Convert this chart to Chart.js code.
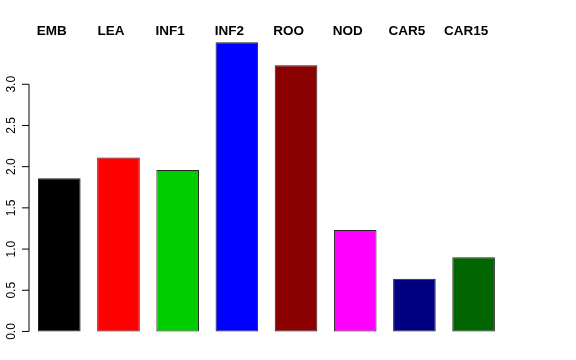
<!DOCTYPE html>
<html>
<head>
<meta charset="utf-8">
<script src="https://cdn.jsdelivr.net/npm/chart.js@4/dist/chart.umd.min.js"></script>
<style>
  body { margin: 0; background: #fff; }
  #wrap { width: 576px; height: 360px; position: relative; }
</style>
</head>
<body>
<div id="wrap"><canvas id="barChart"></canvas></div>
<script>
  // DATA

var categories = ["EMB", "LEA", "INF1", "INF2", "ROO", "NOD", "CAR5", "CAR15"];
var values = [1.86, 2.11, 1.96, 3.51, 3.23, 1.23, 0.64, 0.90];
var barColors = ["#000000", "#FF0000", "#00CD00", "#0000FF", "#8B0000", "#FF00FF", "#000080", "#006400"];
var yTicks = [0, 0.5, 1, 1.5, 2, 2.5, 3];
var yTickLabels = ["0.0", "0.5", "1.0", "1.5", "2.0", "2.5", "3.0"];

  // R STYLE Y AXIS (line only spans the ticks, labels turned up)

const rAxis = {
  id: "rAxis",
  afterDraw(chart) {
    const ctx = chart.ctx;
    const y = chart.scales.y;
    const x0 = 29;
    ctx.save();
    ctx.strokeStyle = "#000";
    ctx.lineWidth = 1;
    ctx.beginPath();
    ctx.moveTo(x0, y.getPixelForValue(yTicks[0]));
    ctx.lineTo(x0, y.getPixelForValue(yTicks[yTicks.length - 1]));
    yTicks.forEach((t) => {
      ctx.moveTo(x0, y.getPixelForValue(t));
      ctx.lineTo(x0 - 7, y.getPixelForValue(t));
    });
    ctx.stroke();

    ctx.fillStyle = "#000";
    ctx.font = "12px 'Liberation Sans', Arial, sans-serif";
    ctx.textAlign = "center";
    ctx.textBaseline = "alphabetic";
    yTicks.forEach((t, i) => {
      ctx.save();
      ctx.translate(14.5, y.getPixelForValue(t));
      ctx.rotate(-Math.PI / 2);
      ctx.fillText(yTickLabels[i], 0, 0);
      ctx.restore();
    });
    ctx.restore();
  }
};

  // CATEGORY NAMES ALONG THE TOP

const topLabels = {
  id: "topLabels",
  afterDraw(chart) {
    const ctx = chart.ctx;
    const bars = chart.getDatasetMeta(0).data;
    ctx.save();
    ctx.fillStyle = "#000";
    ctx.font = "bold 13.5px 'Liberation Sans', Arial, sans-serif";
    ctx.textAlign = "center";
    ctx.textBaseline = "alphabetic";
    bars.forEach((bar, i) => {
      ctx.fillText(categories[i], bar.x - 7.5, 35);
    });
    ctx.restore();
  }
};

  // BAR CHART

const barChart = new Chart("barChart", {
  type: "bar",
  data: {
    labels: categories,
    datasets: [{
      data: values,
      backgroundColor: barColors,
      borderColor: "#222",
      borderWidth: 1,
      borderSkipped: false,
      categoryPercentage: 1,
      barPercentage: 0.72
    }]
  },
  options: {
    responsive: true,
    maintainAspectRatio: false,
    animation: false,
    layout: {
      padding: { left: 29.7, right: 72.8, top: 26.6, bottom: 20.3 }
    },
    plugins: {
      legend: { display: false },
      tooltip: { enabled: false }
    },
    scales: {
      x: { display: false },
      y: { display: false, min: -0.1, max: 3.7 }
    }
  },
  plugins: [rAxis, topLabels]
});
</script>
</body>
</html>
